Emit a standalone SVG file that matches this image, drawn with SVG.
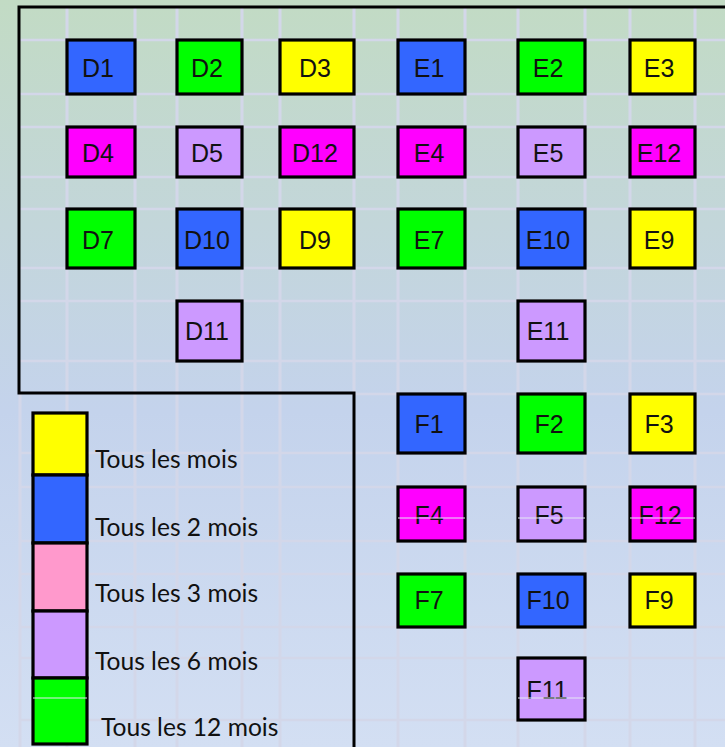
<svg xmlns="http://www.w3.org/2000/svg" width="725" height="747" viewBox="0 0 725 747">
<defs>
<linearGradient id="bg" x1="0" y1="0" x2="0" y2="1">
<stop offset="0" stop-color="#c2dbc4"/>
<stop offset="0.3" stop-color="#c3d6da"/>
<stop offset="0.55" stop-color="#c4d3ec"/>
<stop offset="1" stop-color="#d3dff3"/>
</linearGradient>
<style>
.g line{stroke:#d3d7e9;}
.gv{stroke-width:3}
.gh{stroke-width:2.5}
.b{stroke:#000;stroke-width:3.2}
.blue{fill:#3366ff}.green{fill:#00ff00}.yellow{fill:#ffff00}.mag{fill:#ff00ff}.lav{fill:#cc99ff}.pink{fill:#ff99cc}
.t{font-family:"Liberation Sans",Arial,sans-serif;font-size:25px;fill:#111;text-anchor:middle}
.lt{font-family:Lato,"Liberation Sans",sans-serif;font-size:24.6px;fill:#111}
.thin{stroke:#e4e9f3;stroke-width:1}
</style>
</defs>
<rect x="0" y="0" width="725" height="747" fill="url(#bg)"/>
<g class="g" id="grid">
<line class="gv" x1="67" y1="7" x2="67" y2="747"/>
<line class="gv" x1="135" y1="7" x2="135" y2="747"/>
<line class="gv" x1="177" y1="7" x2="177" y2="747"/>
<line class="gv" x1="242" y1="7" x2="242" y2="747"/>
<line class="gv" x1="280" y1="7" x2="280" y2="747"/>
<line class="gv" x1="354" y1="7" x2="354" y2="393"/>
<line class="gv" x1="20" y1="393" x2="20" y2="747"/>
<line class="gv" x1="398" y1="7" x2="398" y2="747"/>
<line class="gv" x1="465" y1="7" x2="465" y2="747"/>
<line class="gv" x1="518" y1="7" x2="518" y2="747"/>
<line class="gv" x1="585" y1="7" x2="585" y2="747"/>
<line class="gv" x1="630" y1="7" x2="630" y2="747"/>
<line class="gv" x1="695" y1="7" x2="695" y2="747"/>
<line class="gh" x1="19" y1="40" x2="725" y2="40"/>
<line class="gh" x1="19" y1="94" x2="725" y2="94"/>
<line class="gh" x1="19" y1="127" x2="725" y2="127"/>
<line class="gh" x1="19" y1="177" x2="725" y2="177"/>
<line class="gh" x1="19" y1="209" x2="725" y2="209"/>
<line class="gh" x1="19" y1="268" x2="725" y2="268"/>
<line class="gh" x1="19" y1="301" x2="725" y2="301"/>
<line class="gh" x1="19" y1="361" x2="725" y2="361"/>
<line class="gh" x1="354" y1="394" x2="725" y2="394"/>
<line class="gh" x1="19" y1="453" x2="725" y2="453"/>
<line class="gh" x1="19" y1="487" x2="725" y2="487"/>
<line class="gh" x1="19" y1="541" x2="725" y2="541"/>
<line class="gh" x1="19" y1="574" x2="725" y2="574"/>
<line class="gh" x1="19" y1="627" x2="725" y2="627"/>
<line class="gh" x1="19" y1="658" x2="725" y2="658"/>
<line class="gh" x1="19" y1="720" x2="725" y2="720"/>
</g>
<path id="outline" d="M725,7 H19 V393 H354 V747" fill="none" stroke="#000" stroke-width="3"/>
<g id="D1"><rect class="b blue" x="67" y="40" width="68" height="54"/><text class="t" x="98" y="77">D1</text></g>
<g id="D2"><rect class="b green" x="177" y="40" width="65" height="54"/><text class="t" x="207" y="77">D2</text></g>
<g id="D3"><rect class="b yellow" x="280" y="40" width="74" height="54"/><text class="t" x="315" y="77">D3</text></g>
<g id="E1"><rect class="b blue" x="398" y="40" width="67" height="54"/><text class="t" x="429" y="77">E1</text></g>
<g id="E2"><rect class="b green" x="518" y="40" width="67" height="54"/><text class="t" x="548" y="77">E2</text></g>
<g id="E3"><rect class="b yellow" x="630" y="40" width="65" height="54"/><text class="t" x="659" y="77">E3</text></g>
<g id="D4"><rect class="b mag" x="67" y="127" width="68" height="50"/><text class="t" x="98" y="162">D4</text></g>
<g id="D5"><rect class="b lav" x="177" y="127" width="65" height="50"/><text class="t" x="207" y="162">D5</text></g>
<g id="D12"><rect class="b mag" x="280" y="127" width="74" height="50"/><text class="t" x="315" y="162">D12</text></g>
<g id="E4"><rect class="b mag" x="398" y="127" width="67" height="50"/><text class="t" x="429" y="162">E4</text></g>
<g id="E5"><rect class="b lav" x="518" y="127" width="67" height="50"/><text class="t" x="548" y="162">E5</text></g>
<g id="E12"><rect class="b mag" x="630" y="127" width="65" height="50"/><text class="t" x="659" y="162">E12</text></g>
<g id="D7"><rect class="b green" x="67" y="209" width="68" height="59"/><text class="t" x="98" y="249">D7</text></g>
<g id="D10"><rect class="b blue" x="177" y="209" width="65" height="59"/><text class="t" x="207" y="249">D10</text></g>
<g id="D9"><rect class="b yellow" x="280" y="209" width="74" height="59"/><text class="t" x="315" y="249">D9</text></g>
<g id="E7"><rect class="b green" x="398" y="209" width="67" height="59"/><text class="t" x="429" y="249">E7</text></g>
<g id="E10"><rect class="b blue" x="518" y="209" width="67" height="59"/><text class="t" x="548" y="249">E10</text></g>
<g id="E9"><rect class="b yellow" x="630" y="209" width="65" height="59"/><text class="t" x="659" y="249">E9</text></g>
<g id="D11"><rect class="b lav" x="177" y="301" width="65" height="60"/><text class="t" x="207" y="340">D11</text></g>
<g id="E11"><rect class="b lav" x="518" y="301" width="67" height="60"/><text class="t" x="548" y="340">E11</text></g>
<g id="F1"><rect class="b blue" x="398" y="394" width="67" height="59"/><text class="t" x="429" y="433">F1</text></g>
<g id="F2"><rect class="b green" x="518" y="394" width="67" height="59"/><text class="t" x="549" y="433">F2</text></g>
<g id="F3"><rect class="b yellow" x="630" y="394" width="65" height="59"/><text class="t" x="659" y="433">F3</text></g>
<g id="F4"><rect class="b mag" x="398" y="487" width="67" height="54"/><text class="t" x="429" y="524">F4</text></g>
<g id="F5"><rect class="b lav" x="518" y="487" width="67" height="54"/><text class="t" x="549" y="524">F5</text></g>
<g id="F12"><rect class="b mag" x="630" y="487" width="65" height="54"/><text class="t" x="660" y="524">F12</text></g>
<g id="F7"><rect class="b green" x="398" y="574" width="67" height="53"/><text class="t" x="429" y="609">F7</text></g>
<g id="F10"><rect class="b blue" x="518" y="574" width="67" height="53"/><text class="t" x="548" y="609">F10</text></g>
<g id="F9"><rect class="b yellow" x="630" y="574" width="65" height="53"/><text class="t" x="659" y="609">F9</text></g>
<g id="F11"><rect class="b lav" x="518" y="658" width="67" height="62"/><text class="t" x="547" y="699">F11</text></g>
<g id="legend">
<rect class="b yellow" x="33" y="413" width="54" height="62"/>
<rect class="b blue" x="33" y="475" width="54" height="68"/>
<rect class="b pink" x="33" y="543" width="54" height="68"/>
<rect class="b lav" x="33" y="611" width="54" height="67"/>
<rect class="b green" x="33" y="678" width="54" height="66"/>
<text class="lt" x="95" y="468">Tous les mois</text>
<text class="lt" x="95" y="536">Tous les 2 mois</text>
<text class="lt" x="95" y="602">Tous les 3 mois</text>
<text class="lt" x="95" y="670">Tous les 6 mois</text>
<text class="lt" x="101" y="736">Tous les 12 mois</text>
</g>
<g id="overlay-lines">
<line class="thin" x1="398" y1="518" x2="465" y2="518"/>
<line class="thin" x1="518" y1="518" x2="585" y2="518"/>
<line class="thin" x1="630" y1="518" x2="695" y2="518"/>
<line class="thin" x1="518" y1="698" x2="585" y2="698"/>
<line class="thin" x1="33" y1="698" x2="87" y2="698"/>
</g>
</svg>
